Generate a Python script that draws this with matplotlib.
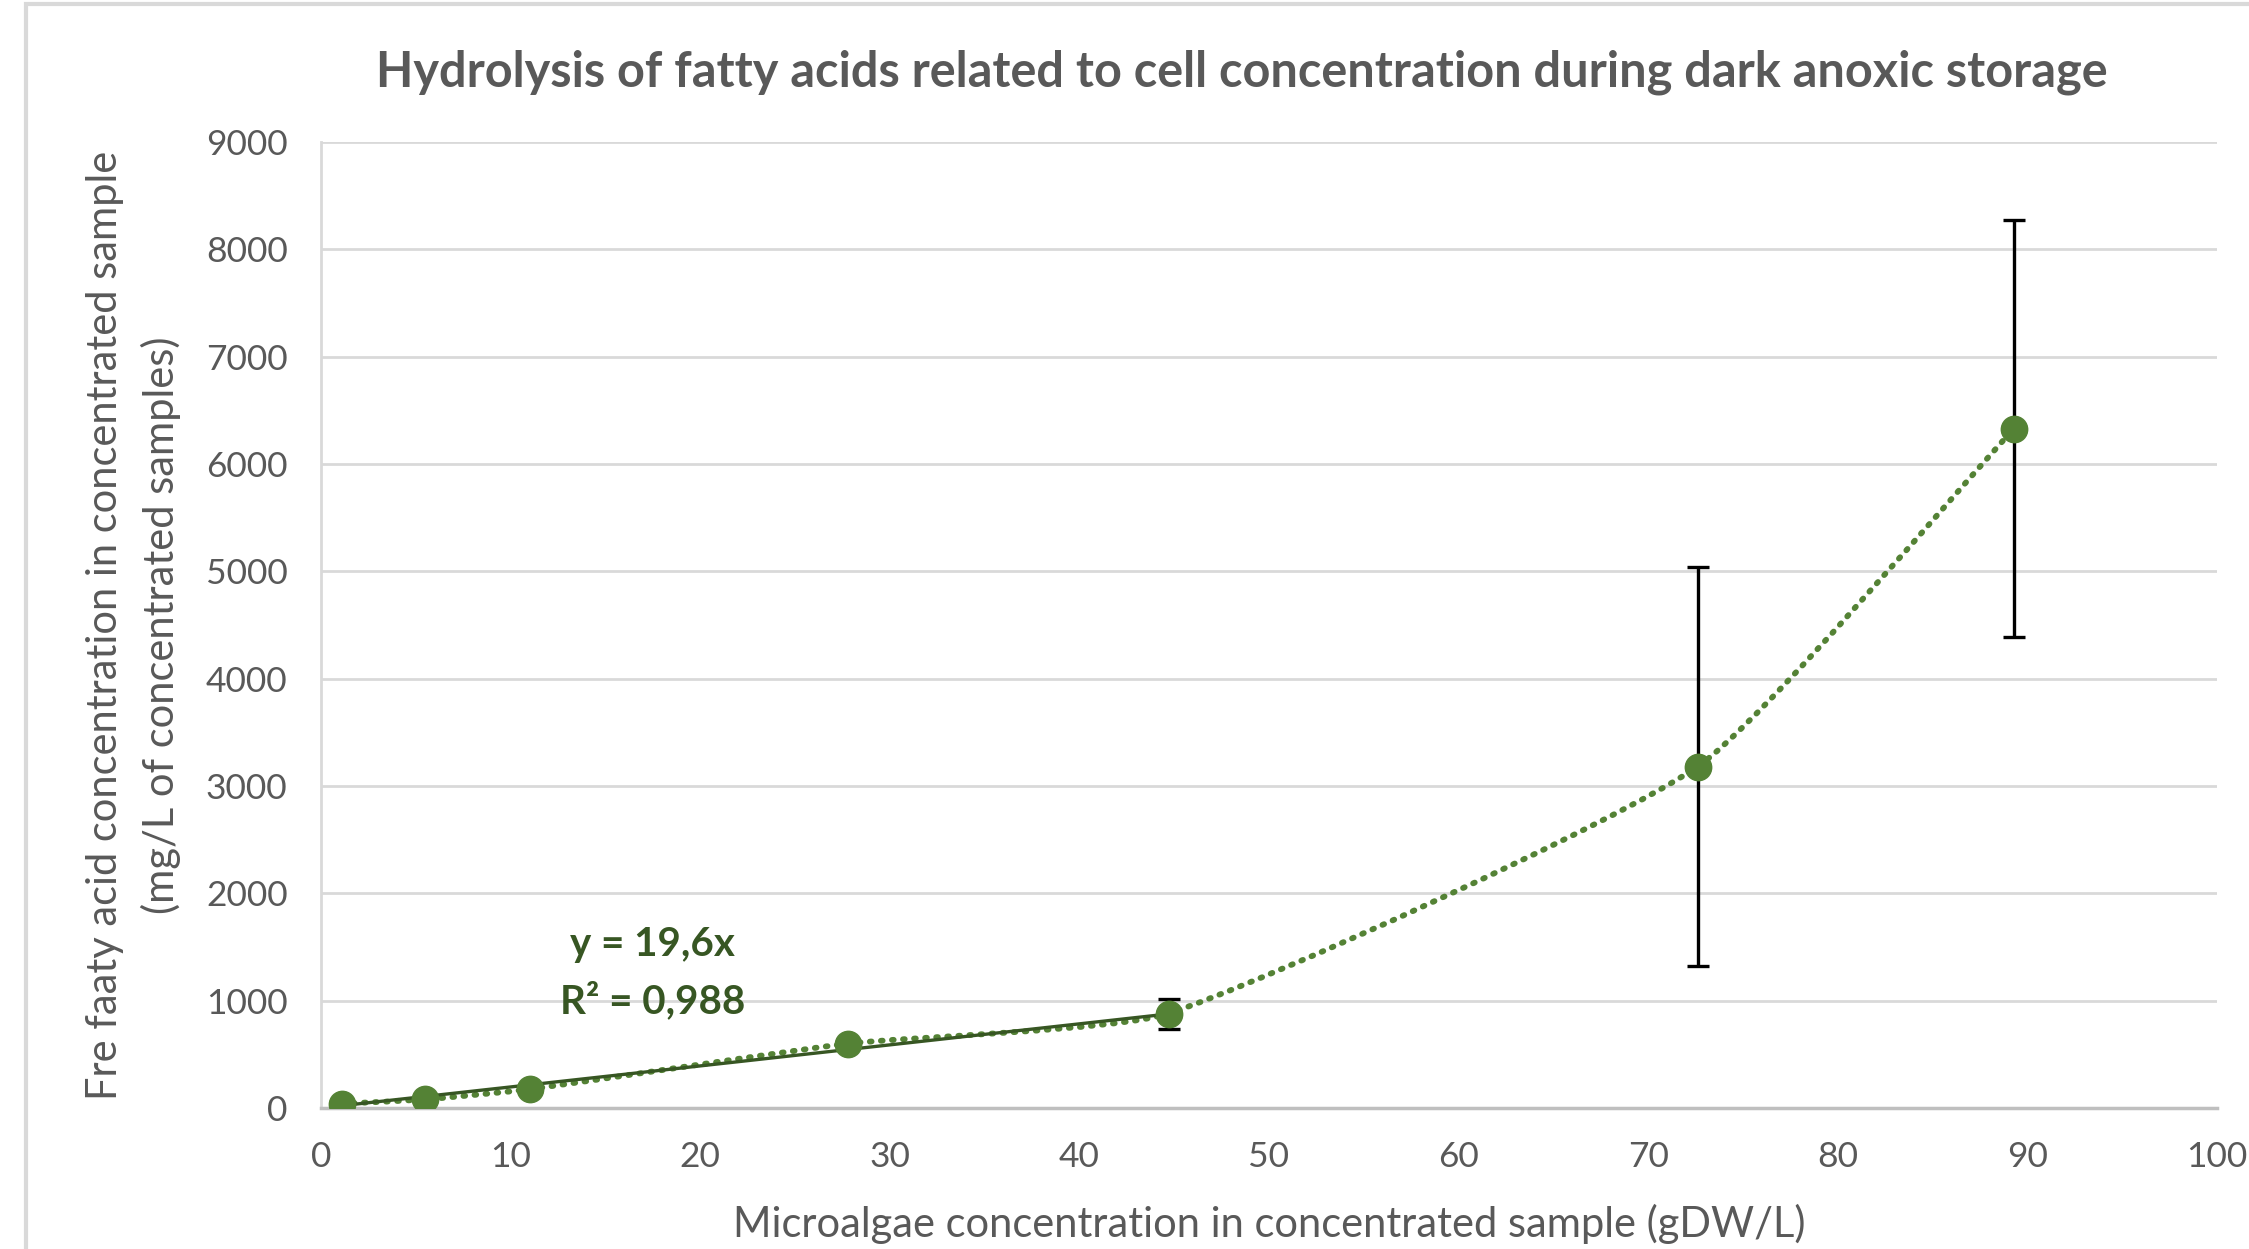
import numpy as np
import matplotlib
matplotlib.use("Agg")
import matplotlib.pyplot as plt
from matplotlib.path import Path
from matplotlib.patches import PathPatch, Rectangle

# data
conc = [1.1, 5.5, 11.0, 27.8, 44.7, 72.6, 89.3]          # gDW/L
ffa = [40, 80, 175, 600, 880, 3180, 6330]                # mg/L
ffa_err = [0, 0, 0, 0, 140, 1860, 1940]
fit_slope = 19.6
fit_r2 = "0,988"
n_fit = 5                                                # points used for the linear fit

plt.rcParams['font.family'] = ['Lato', 'DejaVu Sans']
grey_txt = '#595959'
green = '#548235'
dark_green = '#375623'

fig = plt.figure(figsize=(22.49, 12.49), dpi=100)
ax = fig.add_axes([0.1427, 0.1129, 0.8431, 0.7734])

# chart border
fig.patches.append(Rectangle((26 / 2249, -0.1), 1.2, 1.1 - 4 / 1249, transform=fig.transFigure,
                             fill=False, edgecolor='#D9D9D9', linewidth=3))

# smoothed dotted line through all points, bezier built in (roughly) screen space
sx, sy = 18.96, 0.1073                                   # px per data unit
pts = np.column_stack(np.array([conc, ffa], float)) * [sx, sy]
verts = [tuple(pts[0])]
codes = [Path.MOVETO]
for i in range(len(pts) - 1):
    p1, p2 = pts[i], pts[i + 1]
    p0 = pts[i - 1] if i > 0 else p1
    p3 = pts[i + 2] if i + 2 < len(pts) else p2
    seg = np.linalg.norm(p2 - p1)
    d1 = (p2 - p0) / np.linalg.norm(p2 - p0)
    d2 = (p3 - p1) / np.linalg.norm(p3 - p1)
    c1 = p1 + d1 * seg * 0.17
    c2 = p2 - d2 * seg * 0.17
    verts += [tuple(c1), tuple(c2), tuple(p2)]
    codes += [Path.CURVE4] * 3
verts = [(vx / sx, vy / sy) for vx, vy in verts]
ax.add_patch(PathPatch(Path(verts, codes), fill=False, edgecolor=green, linewidth=4.2,
                       linestyle=(0, (0.3, 1.6)), capstyle='round', zorder=3))

# error bars and markers
ax.errorbar(conc, ffa, yerr=ffa_err, fmt='none', ecolor='black', elinewidth=2.4,
            capsize=8, capthick=2.4, zorder=4)
ax.plot(conc, ffa, 'o', color=green, markersize=19, zorder=5)

# linear trendline through origin over first points
xf = np.array([conc[0], conc[n_fit - 1]])
ax.plot(xf, fit_slope * xf, color=dark_green, linewidth=2.4, zorder=4)
ax.text(17.5, 1520, "y = 19,6x", color=dark_green, fontsize=29, fontweight='bold',
        ha='center', va='center')
ax.text(17.5, 1000, "R² = " + fit_r2, color=dark_green, fontsize=29, fontweight='bold',
        ha='center', va='center')

ax.set_xlim(0, 100)
ax.set_ylim(0, 9000)
ax.set_xticks(np.arange(0, 101, 10))
ax.set_yticks(np.arange(0, 9001, 1000))
ax.grid(axis='y', color='#D9D9D9', linewidth=2)
ax.set_axisbelow(True)
for s in ['top', 'right']:
    ax.spines[s].set_visible(False)
ax.spines['left'].set_color('#D9D9D9')
ax.spines['left'].set_linewidth(2)
ax.spines['bottom'].set_color('#BFBFBF')
ax.spines['bottom'].set_linewidth(2.5)
ax.tick_params(length=0, labelsize=25.5, labelcolor=grey_txt, pad=24)

ax.set_xlabel("Microalgae concentration in concentrated sample (gDW/L)", fontsize=30,
              color=grey_txt, labelpad=22)
ax.set_ylabel("Fre faaty acid concentration in concentrated sample\n(mg/L of concentrated samples)",
              fontsize=30, color=grey_txt, labelpad=18, linespacing=1.5)
ax.set_title("Hydrolysis of fatty acids related to cell concentration during dark anoxic storage",
             fontsize=35, fontweight='bold', color=grey_txt, pad=40, x=0.4856)

fig.savefig("out.png", dpi=100)
